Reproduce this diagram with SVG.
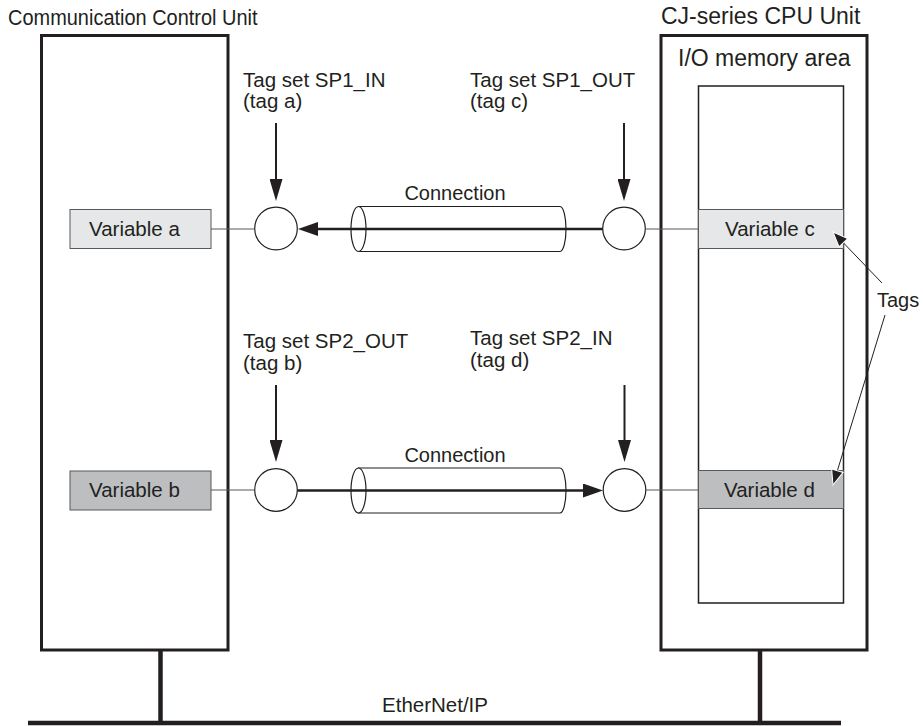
<svg xmlns="http://www.w3.org/2000/svg" width="923" height="726" viewBox="0 0 923 726">
<style>
text{font-family:"Liberation Sans",Arial,sans-serif;fill:#231f20;}
.t20{font-size:20.5px;}
.title{font-size:20px;}
.big{font-size:23px;}
.unit{fill:#fff;stroke:#231f20;stroke-width:3;}
.mem{fill:#fff;stroke:#231f20;stroke-width:1.5;}
.varL{fill:#e6e7e8;stroke:#58595b;stroke-width:1;}
.varD{fill:#bcbec0;stroke:#58595b;stroke-width:1;}
.tagc{fill:#fff;stroke:#231f20;stroke-width:1.2;}
.thin{stroke:#58595b;stroke-width:1.2;fill:none;}
.heavy{stroke:#231f20;stroke-width:2;fill:none;}
.conn{stroke:#231f20;stroke-width:2.5;fill:none;}
.tube{fill:#fff;stroke:#231f20;stroke-width:1.2;}
.bus{stroke:#231f20;stroke-width:4.5;fill:none;}
.ptr{stroke:#231f20;stroke-width:1;fill:none;}
</style>
<defs>
<marker id="ahV" markerUnits="userSpaceOnUse" markerWidth="22" markerHeight="13" refX="0" refY="6.5" orient="auto">
<path d="M0,0 L22,6.5 L0,13 z" fill="#231f20"/>
</marker>
<marker id="ahC" markerUnits="userSpaceOnUse" markerWidth="20" markerHeight="14" refX="0" refY="7" orient="auto">
<path d="M0,0 L20,7 L0,14 z" fill="#231f20"/>
</marker>
<marker id="ahP" markerUnits="userSpaceOnUse" markerWidth="18" markerHeight="14" refX="16" refY="7" orient="auto">
<path d="M1,1 L16,7 L1,13 z" fill="#231f20" stroke="#fff" stroke-width="1"/>
</marker>
</defs>
<rect width="923" height="726" fill="#fff"/>

<g id="comm-unit">
<text transform="translate(8,25) scale(0.92,1)" style="font-size:21.7px">Communication Control Unit</text>
<rect class="unit" x="41.5" y="35.5" width="186.5" height="614.5"/>
</g>

<g id="cpu-unit">
<text class="big" x="661" y="24">CJ-series CPU Unit</text>
<rect class="unit" x="661" y="35.5" width="206" height="614.5"/>
<text class="big" x="678" y="65.5">I/O memory area</text>
<rect class="mem" x="698.5" y="86" width="145" height="517"/>
</g>

<g id="variable-a">
<rect class="varL" x="70" y="209.5" width="141" height="39"/>
<text class="t20" x="89" y="236">Variable a</text>
</g>
<g id="variable-b">
<rect class="varD" x="70" y="471" width="141" height="39"/>
<text class="t20" x="89" y="497">Variable b</text>
</g>
<g id="variable-c">
<rect class="varL" x="698.5" y="209.5" width="145" height="39"/>
<text class="t20" x="725" y="235.5">Variable c</text>
</g>
<g id="variable-d">
<rect class="varD" x="698.5" y="470.5" width="145" height="38"/>
<text class="t20" x="724" y="496.5">Variable d</text>
</g>

<g id="tag-a">
<text class="t20" x="243" y="87">Tag set SP1_IN</text>
<text class="t20" x="243" y="108">(tag a)</text>
<circle class="tagc" cx="276" cy="228.5" r="21.3"/>
</g>
<g id="tag-c">
<text class="t20" x="470" y="87">Tag set SP1_OUT</text>
<text class="t20" x="470" y="108">(tag c)</text>
<circle class="tagc" cx="624" cy="228.5" r="21.3"/>
</g>
<g id="tag-b">
<text class="t20" x="243" y="348">Tag set SP2_OUT</text>
<text class="t20" x="243" y="370">(tag b)</text>
<circle class="tagc" cx="276" cy="490" r="21.3"/>
</g>
<g id="tag-d">
<text class="t20" x="470" y="345">Tag set SP2_IN</text>
<text class="t20" x="470" y="367">(tag d)</text>
<circle class="tagc" cx="624.5" cy="490" r="21.3"/>
</g>

<g id="connection-1">
<text class="title" x="455" y="200" text-anchor="middle">Connection</text>
<path class="tube" d="M358.5,206.5 L560,206.5 A6,22.5 0 0 1 560,251.5 L358.5,251.5 Z"/>
<ellipse class="tube" cx="358.5" cy="229" rx="7.5" ry="22.5"/>
</g>
<g id="connection-2">
<text class="title" x="455" y="462" text-anchor="middle">Connection</text>
<path class="tube" d="M358.5,468 L560,468 A6,22.5 0 0 1 560,513 L358.5,513 Z"/>
<ellipse class="tube" cx="358.5" cy="490.5" rx="7.5" ry="22.5"/>
</g>

<g id="tags-label">
<text class="title" x="877" y="307">Tags</text>
</g>

<g id="ethernet">
<text class="t20" x="435" y="712" text-anchor="middle">EtherNet/IP</text>
<line class="bus" x1="28" y1="723" x2="841" y2="723"/>
<line class="bus" x1="160.5" y1="650" x2="160.5" y2="722"/>
<line class="bus" x1="760" y1="650" x2="760" y2="722"/>
</g>

<g id="connectors">
<line class="thin" x1="211" y1="229" x2="254.7" y2="229"/>
<line class="thin" x1="645.3" y1="229" x2="698.5" y2="229"/>
<line class="thin" x1="211" y1="490" x2="254.7" y2="490"/>
<line class="thin" x1="645.8" y1="490" x2="698.5" y2="490"/>
<line class="heavy" x1="276" y1="123" x2="276" y2="179" marker-end="url(#ahV)"/>
<line class="heavy" x1="624" y1="123" x2="624" y2="179" marker-end="url(#ahV)"/>
<line class="heavy" x1="276" y1="385" x2="276" y2="440" marker-end="url(#ahV)"/>
<line class="heavy" x1="624.5" y1="385" x2="624.5" y2="440" marker-end="url(#ahV)"/>
<line class="conn" x1="602.7" y1="229" x2="318" y2="229" marker-end="url(#ahC)"/>
<line class="conn" x1="297.3" y1="490.5" x2="583" y2="490.5" marker-end="url(#ahC)"/>
<line class="ptr" x1="882" y1="283" x2="833" y2="232" marker-end="url(#ahP)"/>
<line class="ptr" x1="885" y1="315" x2="833" y2="485" marker-end="url(#ahP)"/>
</g>
</svg>
